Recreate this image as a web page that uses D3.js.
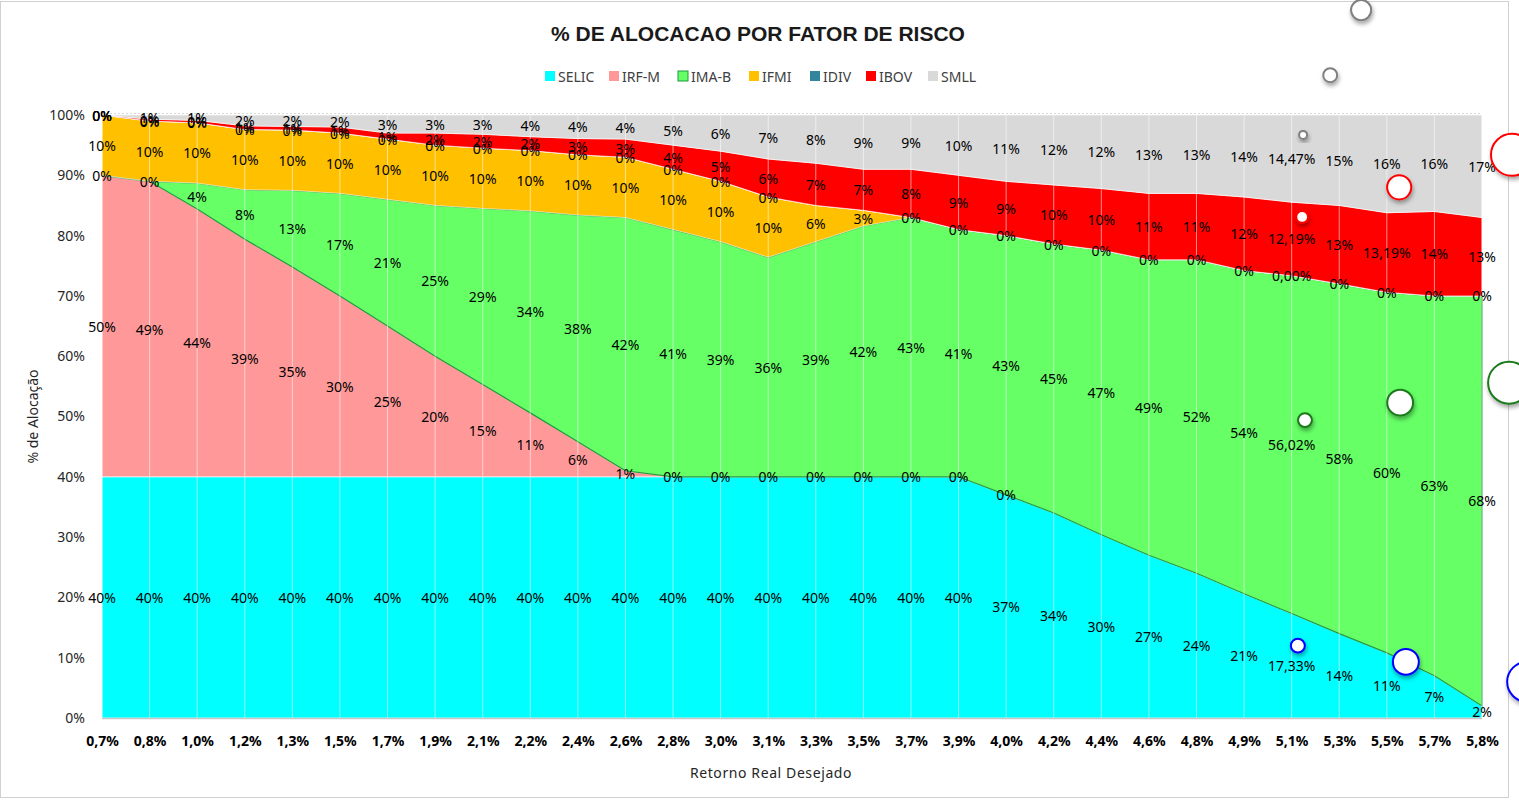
<!DOCTYPE html>
<html>
<head>
<meta charset="utf-8">
<script src="https://cdn.jsdelivr.net/npm/d3@7"></script>
<style>
  body { margin: 0; background: #fff; }
  svg { font-family: "Liberation Sans Narrow", "Noto Sans", sans-serif; }
</style>
</head>
<body>
<svg width="1519" height="800"></svg>
<script>
// Categories (retorno real desejado).
const categories = ['0,7%', '0,8%', '1,0%', '1,2%', '1,3%', '1,5%', '1,7%', '1,9%', '2,1%', '2,2%',
  '2,4%', '2,6%', '2,8%', '3,0%', '3,1%', '3,3%', '3,5%', '3,7%', '3,9%', '4,0%',
  '4,2%', '4,4%', '4,6%', '4,8%', '4,9%', '5,1%', '5,3%', '5,5%', '5,7%', '5,8%'];

// Allocation per risk factor, in %. null = no label shown.
const SELIC = [40, 40, 40, 40, 40, 40, 40, 40, 40, 40, 40, 40, 40, 40, 40, 40, 40, 40, 40,
  37, 34, 30.4, 27, 24, 20.6, 17.33, 14, 10.8, 7, 2];
const IRFM = [50, 49, 44.4, 39.4, 34.8, 30, 25, 20, 15.3, 10.6, 5.8, 1, 0, 0, 0, 0, 0, 0, 0, 0,
  null, null, null, null, null, null, null, null, null, null];
const IMAB = [0, 0, 4.3, 8.2, 12.7, 17, 21, 25, 29.2, 33.5, 37.6, 42, 41, 39, 36.4, 39, 41.6, 43, 41, 43,
  44.6, 47.2, 49, 52, 53.6, 56.02, 58, 59.8, 63, 68];
const IFMI = [10, 10, 10, 10, 10, 10, 10, 10, 10, 10, 10, 10, 10, 10, 10, 6, 2.6, 0, 0, 0,
  0, 0, 0, 0, 0, 0, 0, 0, 0, 0];
const IDIV = [0, 0, 0, 0, 0, 0, 0, 0, 0, 0, 0, 0, 0, 0, 0,
  null, null, null, null, null, null, null, null, null, null, null, null, null, null, null];
const IBOV = [0, 0.3, 0.4, 0.6, 0.6, 1, 1, 2, 2.3, 2.3, 2.7, 3, 4, 5, 6.3, 7, 6.8, 8, 9, 9,
  9.8, 10.2, 11, 11, 12.2, 12.19, 13, 13.19, 14, 13];
const SMLL = [0, 0.7, 0.9, 1.8, 1.9, 2, 3, 3, 3.2, 3.6, 3.9, 4, 5, 6, 7.3, 8, 9, 9, 10, 11,
  11.6, 12.2, 13, 13, 13.6, 14.47, 15, 16.21, 16, 17];

const seriesNames = ['SELIC', 'IRF-M', 'IMA-B', 'IFMI', 'IDIV', 'IBOV', 'SMLL'];
const seriesValues = [SELIC, IRFM, IMAB, IFMI, IDIV, IBOV, SMLL];
const seriesColors = ['#00ffff', '#ff9999', '#66ff66', '#ffc000', '#31859c', '#ff0000', '#d9d9d9'];

// Labels shown with two decimals.
const decimalLabels = { 'SELIC': [25], 'IMA-B': [25], 'IFMI': [25], 'IBOV': [25, 27], 'SMLL': [25] };

// Bubble markers: category position, % value, size.
const bubbleColors = ['#808080', '#ff0000', '#1a7a1a', '#0000ff', '#ff0000', '#1a7a1a', '#0000ff',
  '#ff0000', '#1a7a1a', '#0000ff', '#808080', '#808080'];
const bubblePos = [25.24, 25.22, 25.28, 25.13, 27.26, 27.28, 27.40, 29.63, 29.57, 29.95, 26.46, 25.81];
const bubbleValue = [96.7, 83.1, 49.4, 12.0, 88.0, 52.3, 9.3, 93.4, 55.6, 6.0, 117.4, 106.6];
const bubbleSize = [3.6, 8, 11, 11, 33, 38, 38, 100, 100, 91, 23, 11];

const yTicks = [0, 0.1, 0.2, 0.3, 0.4, 0.5, 0.6, 0.7, 0.8, 0.9, 1];

// Dimensions.
const plot = { left: 102, right: 1482, top: 115, bottom: 718 };

const svg = d3.select('svg');

// Chart border.
svg.append('rect')
  .attr('x', 0.5).attr('y', 1.5).attr('width', 1508).attr('height', 796)
  .attr('fill', '#fff').attr('stroke', '#d0d0d0');

// Shadow for bubbles.
const defs = svg.append('defs');
const f = defs.append('filter').attr('id', 'shadow')
  .attr('x', '-50%').attr('y', '-50%').attr('width', '200%').attr('height', '200%');
f.append('feDropShadow').attr('dx', 1).attr('dy', 3).attr('stdDeviation', 2)
  .attr('flood-color', '#000').attr('flood-opacity', 0.35);

// Scales.
const x = d3.scaleLinear().domain([0, categories.length - 1]).range([plot.left, plot.right]);
const y = d3.scaleLinear().domain([0, 100]).range([plot.bottom, plot.top]);
const rScale = d3.scaleSqrt().domain([0, 100]).range([0, 21]);

// Stack.
const rows = categories.map((c, i) => {
  const r = { i };
  seriesNames.forEach((s, k) => { r[s] = seriesValues[k][i]; });
  return r;
});
const stacked = d3.stack()
  .keys(seriesNames)
  .value((d, k) => d[k] == null ? 0 : d[k])(rows);

const area = d3.area()
  .x(d => x(d.data.i))
  .y0(d => y(d[0]))
  .y1(d => y(Math.min(100, d[1])));

// Top dotted line at 100%.
svg.append('line')
  .attr('x1', plot.left).attr('x2', plot.right)
  .attr('y1', plot.top - 1.5).attr('y2', plot.top - 1.5)
  .attr('stroke', '#d9d9d9').attr('stroke-dasharray', '2,2');

svg.append('g')
  .selectAll('path')
  .data(stacked)
  .enter()
  .append('path')
  .attr('d', area)
  .attr('fill', (d, k) => seriesColors[k])
  .attr('stroke', d => d.key === 'IMA-B' ? '#1f9a3f' : 'rgba(255,255,255,0.6)')
  .attr('stroke-width', d => d.key === 'IMA-B' ? 1.2 : 1);

// Vertical gridlines over the fill.
svg.append('g')
  .selectAll('line')
  .data(categories.map((c, i) => i))
  .enter()
  .append('line')
  .attr('x1', d => x(d)).attr('x2', d => x(d))
  .attr('y1', plot.top).attr('y2', plot.bottom)
  .attr('stroke', '#ffffff').attr('stroke-opacity', 0.55).attr('stroke-width', 1);

// X axis line.
svg.append('line')
  .attr('x1', plot.left).attr('x2', plot.right)
  .attr('y1', plot.bottom + 0.5).attr('y2', plot.bottom + 0.5)
  .attr('stroke', '#c8c8c8').attr('stroke-width', 1.5);

// Axes.
const yAxis = svg.append('g')
  .attr('transform', `translate(${plot.left - 14},0)`)
  .call(d3.axisLeft(y).tickValues(yTicks.map(t => t * 100)).tickFormat(d => Math.round(d) + '%').tickSize(0));
yAxis.select('.domain').remove();
yAxis.selectAll('text')
  .attr('font-family', '"Liberation Sans Narrow", "Noto Sans", sans-serif')
  .attr('font-size', 14).attr('fill', '#262626');

const xAxis = svg.append('g')
  .attr('transform', `translate(0,${plot.bottom + 15})`)
  .call(d3.axisBottom(x).tickValues(categories.map((c, i) => i)).tickFormat(i => categories[i]).tickSize(0));
xAxis.select('.domain').remove();
xAxis.selectAll('text')
  .attr('font-family', '"Liberation Sans Narrow", "Noto Sans", sans-serif')
  .attr('font-size', 14).attr('font-weight', 'bold').attr('fill', '#000');

// Data labels.
const fmt = (v, key, i) => (decimalLabels[key] || []).includes(i)
  ? v.toFixed(2).replace('.', ',') + '%'
  : Math.round(v) + '%';

const labels = [];
stacked.forEach(s => {
  s.forEach((d, i) => {
    const v = d.data[s.key];
    if (v == null) return;
    labels.push({ x: x(i), y: y((d[0] + d[1]) / 2), text: fmt(v, s.key, i) });
  });
});
svg.append('g')
  .selectAll('text')
  .data(labels)
  .enter()
  .append('text')
  .attr('x', d => d.x)
  .attr('y', d => d.y)
  .attr('text-anchor', 'middle')
  .attr('dominant-baseline', 'central')
  .attr('font-size', 14)
  .attr('fill', '#000')
  .text(d => d.text);

// Bubbles.
svg.append('g')
  .selectAll('circle')
  .data(bubblePos.map((p, k) => k))
  .enter()
  .append('circle')
  .attr('cx', k => x(bubblePos[k]))
  .attr('cy', k => y(bubbleValue[k]))
  .attr('r', k => rScale(bubbleSize[k]))
  .attr('fill', '#fff')
  .attr('stroke', k => bubbleColors[k])
  .attr('stroke-width', 2)
  .attr('filter', 'url(#shadow)');

// Title.
svg.append('text')
  .attr('x', 758).attr('y', 41)
  .attr('text-anchor', 'middle')
  .attr('font-family', '"Liberation Sans", Arial, sans-serif')
  .attr('font-size', 21).attr('font-weight', 'bold').attr('fill', '#1a1a1a')
  .text('% DE ALOCACAO POR FATOR DE RISCO');

// Legend.
const legend = svg.append('g').attr('transform', 'translate(0,76)');
const legendX = [545, 609, 678, 749, 810, 866, 928];
seriesNames.forEach((s, k) => {
  const g = legend.append('g').attr('transform', `translate(${legendX[k]},0)`);
  g.append('rect')
    .attr('x', 0).attr('y', -5).attr('width', 10).attr('height', 10)
    .attr('fill', seriesColors[k])
    .attr('stroke', s === 'IMA-B' ? '#1f9a3f' : 'none').attr('stroke-width', 1);
  g.append('text')
    .attr('x', 13).attr('y', 0)
    .attr('dominant-baseline', 'central')
    .attr('font-size', 14).attr('fill', '#404040')
    .text(s);
});

// Axis titles.
svg.append('text')
  .attr('transform', `translate(38,${(plot.top + plot.bottom) / 2}) rotate(-90)`)
  .attr('text-anchor', 'middle')
  .attr('font-size', 14).attr('fill', '#262626')
  .text('% de Alocação');

svg.append('text')
  .attr('x', 771).attr('y', 778)
  .attr('text-anchor', 'middle')
  .attr('font-size', 14).attr('fill', '#262626')
  .attr('letter-spacing', 0.6)
  .text('Retorno Real Desejado');
</script>
</body>
</html>
